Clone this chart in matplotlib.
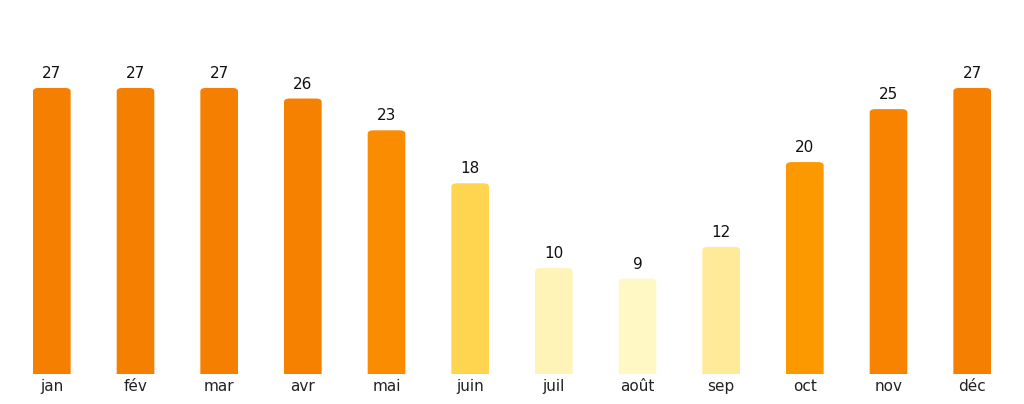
import matplotlib
matplotlib.use("Agg")
import matplotlib.pyplot as plt
from matplotlib.patches import FancyBboxPatch

months = ["jan", "fév", "mar", "avr", "mai", "juin", "juil", "août", "sep", "oct", "nov", "déc"]
values = [27, 27, 27, 26, 23, 18, 10, 9, 12, 20, 25, 27]
colors = ["#F57F00", "#F57F00", "#F57F00", "#F68100", "#F98C00", "#FFD54F",
          "#FFF4B8", "#FFF8C5", "#FFEA9A", "#FC9800", "#F78300", "#F57F00"]

fig = plt.figure(figsize=(10.24, 4.04), dpi=100)
ax = fig.add_axes([10/1024, 30/404, 1004/1024, 374/404])
ax.set_xlim(-0.5, 11.5)
ax.set_ylim(0, 35.3)

bars = ax.bar(range(len(months)), values, width=0.45, color=colors)
for i, (b, c) in enumerate(zip(bars, colors)):
    b.set_visible(False)
    x0, w, h = b.get_x(), b.get_width(), b.get_height()
    p = FancyBboxPatch((x0, -1), w, h + 1,
                       boxstyle="round,pad=0,rounding_size=0.07",
                       mutation_aspect=4.5, facecolor=c, edgecolor="none",
                       clip_on=True)
    ax.add_patch(p)
    ax.text(x0 + w/2, h + 0.65, str(values[i]),
            ha="center", va="bottom", fontsize=11, color="#111111")

ax.set_xticks(range(len(months)))
ax.set_xticklabels(months, fontsize=11, color="#222222")
ax.tick_params(axis="x", length=0, pad=3.5)
ax.set_yticks([])
for s in ax.spines.values():
    s.set_visible(False)

fig.savefig("out.png", dpi=100)
